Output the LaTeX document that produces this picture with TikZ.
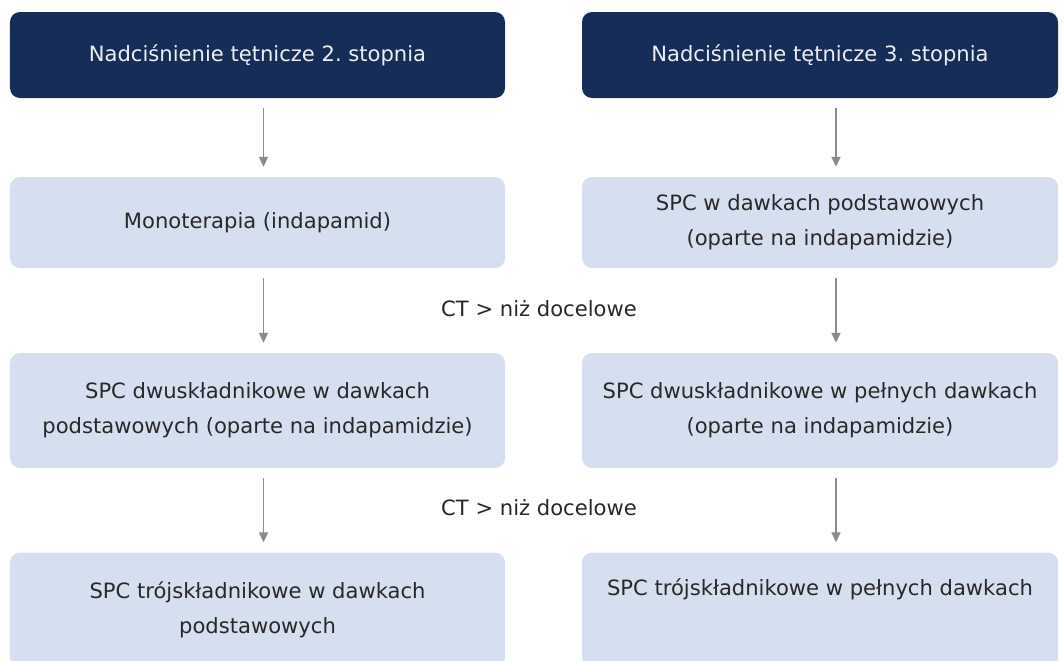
\documentclass[tikz,border=0pt]{standalone}
\usepackage{fontspec}
\setmainfont{DejaVu Sans}
\usepackage{tikz}
\usetikzlibrary{arrows.meta, positioning}
\usepackage{xcolor}
\definecolor{navy}{RGB}{22,45,88}
\definecolor{paleblue}{RGB}{214,223,239}
\definecolor{arrowgrey}{RGB}{140,140,140}
\definecolor{textgrey}{RGB}{40,40,40}
\frenchspacing

\begin{document}
\begin{tikzpicture}[
  headbox/.style={fill=navy, text=white!92!navy, rounded corners=0.25cm, minimum height=2.15cm, align=center, inner sep=0pt},
  stagebox/.style={fill=paleblue, text=textgrey, rounded corners=0.25cm, align=center, inner sep=0pt},
  leftcol/.style={minimum width=12.375cm},
  rightcol/.style={minimum width=11.9cm},
  flow/.style={draw=arrowgrey, line width=0.8pt, -{Triangle[width=6.5pt,length=7pt]}, shorten <=0.25cm, shorten >=0.25cm},
  cond/.style={text=textgrey},
  font=\fontsize{15}{25}\selectfont
]
  \clip (0,0) rectangle (26.6,-16.5);

  % headers
  \node[headbox, leftcol] (top2) at (6.4375,-1.375) {Nadciśnienie tętnicze 2. stopnia};
  \node[headbox, rightcol] (top3) at (20.5,-1.375) {Nadciśnienie tętnicze 3. stopnia};

  % left column
  \node[stagebox, leftcol, minimum height=2.275cm] (mono) at (6.4375,-5.5625) {Monoterapia (indapamid)};
  \node[stagebox, leftcol, minimum height=2.875cm] (dual) at (6.4375,-10.2625) {SPC dwuskładnikowe w dawkach\\podstawowych (oparte na indapamidzie)};
  \node[stagebox, leftcol, minimum height=2.875cm] (triple) at (6.4375,-15.25) {SPC trójskładnikowe w dawkach\\podstawowych};

  % right column
  \node[stagebox, rightcol, minimum height=2.275cm] (spc) at (20.5,-5.5625) {SPC w dawkach podstawowych\\(oparte na indapamidzie)};
  \node[stagebox, rightcol, minimum height=2.875cm] (dualfull) at (20.5,-10.2625) {SPC dwuskładnikowe w pełnych dawkach\\(oparte na indapamidzie)};
  \node[stagebox, rightcol, minimum height=2.875cm] (triplefull) at (20.5,-15.25) {SPC trójskładnikowe w pełnych dawkach\\\strut};

  % conditions
  \node[cond] (cond1) at (13.475,-7.725) {CT > niż docelowe};
  \node[cond] (cond2) at (13.475,-12.7) {CT > niż docelowe};

  % arrows
  \draw[flow] ([xshift=0.15cm]top2.south) -- ([xshift=0.15cm]mono.north);
  \draw[flow] ([xshift=0.15cm]mono.south) -- ([xshift=0.15cm]dual.north);
  \draw[flow] ([xshift=0.15cm]dual.south) -- ([xshift=0.15cm]triple.north);
  \draw[flow] ([xshift=0.4cm]top3.south) -- ([xshift=0.4cm]spc.north);
  \draw[flow] ([xshift=0.4cm]spc.south) -- ([xshift=0.4cm]dualfull.north);
  \draw[flow] ([xshift=0.4cm]dualfull.south) -- ([xshift=0.4cm]triplefull.north);
\end{tikzpicture}
\end{document}
